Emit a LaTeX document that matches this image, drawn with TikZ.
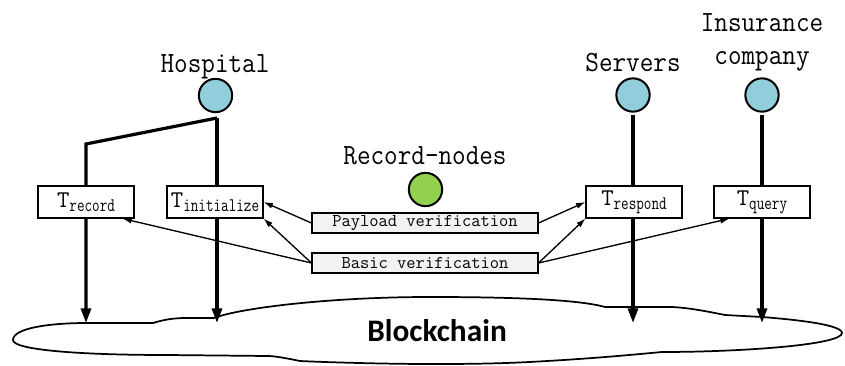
\documentclass[tikz,border=0pt]{standalone}
\usepackage{fontspec}
\usepackage{graphicx}
\newfontfamily\blkfont{Carlito}
\usetikzlibrary{arrows.meta,backgrounds,calc}
\definecolor{actorblue}{HTML}{92CDDC}
\definecolor{nodegreen}{HTML}{92D050}
\definecolor{vgray}{HTML}{F2F2F2}
\newcommand\narrowtxt[1]{\scalebox{0.9}[1]{#1}}
\newcommand\tlabel[1]{{\fontsize{18}{18}\selectfont T}\raisebox{-3pt}{\scalebox{0.92}[1.2]{\fontsize{12}{12}\selectfont #1}}}
\begin{document}
\begin{tikzpicture}[x=0.75pt,y=-0.75pt,
  actor/.style={circle,draw=black,line width=1.5pt,fill=#1,minimum size=25pt,inner sep=0pt},
  lbl/.style={font=\fontsize{22}{25}\selectfont\ttfamily,anchor=base,inner sep=0pt},
  tbox/.style={draw=black,line width=0.8pt,fill=white,minimum width=72pt,minimum height=24pt,inner sep=0pt,font=\ttfamily},
  vbox/.style={draw=black,line width=0.8pt,fill=vgray,minimum width=169.5pt,minimum height=15pt,inner sep=0pt,font=\fontsize{13.5}{14}\selectfont\ttfamily},
  mainflow/.style={line width=2.4pt,line join=miter,-{Triangle[length=11pt,width=7.5pt]}},
  verarrow/.style={line width=1pt,-{Latex[length=7pt,width=4.5pt]}},
  cloudline/.style={draw=black,line width=1.3pt,fill=white}
]
\useasboundingbox (0,0) rectangle (845,366);

% actors
\node[actor=actorblue] (hosp) at (215.5,95.5) {};
\node[actor=actorblue] (serv) at (633,95) {};
\node[actor=actorblue] (ins) at (762,95) {};
\node[actor=nodegreen] (rec) at (425.5,189.5) {};

% labels
\node[lbl] (hospl) at (215,73) {\narrowtxt{Hospital}};
\node[lbl] (servl) at (633,72) {\narrowtxt{Servers}};
\node[lbl] (insl1) at (762,32) {\narrowtxt{Insurance}};
\node[lbl] (insl2) at (762,65) {\narrowtxt{company}};
\node[lbl] (recl) at (425,165) {\narrowtxt{Record-nodes}};

% transaction boxes
\node[tbox] (trec) at (86,202) {\tlabel{record}};
\node[tbox] (tinit) at (215,202) {\tlabel{initialize}};
\node[tbox] (tresp) at (634,202) {\tlabel{respond}};
\node[tbox] (tq) at (762,202) {\tlabel{query}};

% verification boxes
\node[vbox] (pay) at (425,223) {Payload verification};
\node[vbox] (basic) at (425,263) {Basic verification};

% blockchain label
\node[font=\blkfont\bfseries\fontsize{23.5}{24}\selectfont,anchor=base,inner sep=0pt] (bc) at (437,341) {Blockchain};

% coordinates
\coordinate (h0) at (217,118);
\coordinate (h1) at (86,144);
\coordinate (b1) at (86,323);
\coordinate (b2) at (217,323);
\coordinate (b3) at (633,323);
\coordinate (b4) at (762,323);
\coordinate (s0) at (633,115);
\coordinate (i0) at (762,115);

\begin{scope}[on background layer]
  % cloud
  \path[cloudline] (13,340)
    .. controls (13,328) and (50,323) .. (87,323)
    -- (153,323)
    .. controls (163,320) and (172,318) .. (187,318)
    -- (214,318)
    .. controls (240,308) and (330,297) .. (430,297)
    .. controls (520,297) and (580,300) .. (605,307)
    -- (672,307)
    .. controls (690,308) and (705,311) .. (725,315)
    -- (762,317)
    .. controls (800,320) and (842,325) .. (842,333)
    .. controls (842,345) and (740,352) .. (662,352)
    .. controls (640,354) and (600,358) .. (547,361)
    .. controls (500,364) and (460,364) .. (430,364)
    .. controls (380,364) and (320,362) .. (300,361)
    .. controls (285,358) and (275,356) .. (267,356)
    -- (167,355)
    .. controls (80,355) and (13,350) .. (13,340) -- cycle;
  % main flows
  \draw[mainflow] (h0) -- (h1) -- (b1);
  \draw[mainflow] (h0) -- (b2);
  \draw[mainflow] (s0) -- (b3);
  \draw[mainflow] (i0) -- (b4);
\end{scope}

% verification arrows
\draw[verarrow] (pay.west) -- (tinit.east);
\draw[verarrow] (basic.west) -- (tinit.south east);
\draw[verarrow] (basic.west) -- ($(trec.south)!0.75!(trec.south east)$);
\draw[verarrow] (pay.east) -- (tresp.west);
\draw[verarrow] (basic.east) -- (tresp.south west);
\draw[verarrow] (basic.east) -- ($(tq.south)!0.667!(tq.south west)$);
\end{tikzpicture}
\end{document}
